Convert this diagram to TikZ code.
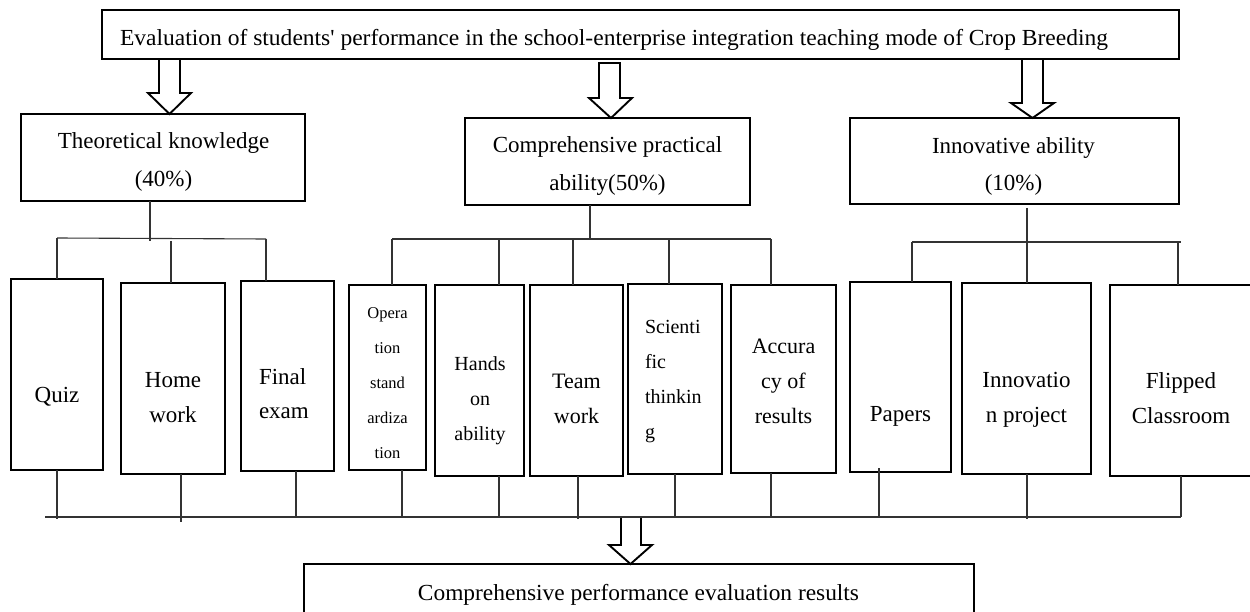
\documentclass[tikz,border=0pt]{standalone}
\usepackage{fontspec}
\setmainfont{Liberation Serif}[Ligatures=TeXOff]
\usepackage{graphicx}
\newcommand\fs[2]{\fontsize{#1}{#2}\selectfont}
\newcommand\mybox[5]{\node[box, anchor=north west, minimum width={#4-#2}, minimum height={#5-#3}] (#1) at (#2,#3) {};}
\begin{document}
\begin{tikzpicture}[x=1pt,y=-1pt,
  box/.style={draw=black, line width=2.2pt, inner sep=0pt, outer sep=0pt},
  conn/.style={draw=black!80, line width=1.1pt},
  barrow/.style={draw=black, line width=1.9pt, fill=white, line join=miter},
  lbl/.style={inner sep=0pt, outer sep=0pt, align=center},
]
\useasboundingbox (0,0) rectangle (1250,612);
\clip (0,0) rectangle (1250,612);
% boxes
\mybox{top}{102}{10}{1179}{59}
\mybox{theo}{21}{114}{305}{201}
\mybox{prac}{465}{118}{750}{205}
\mybox{inno}{850}{118}{1179}{204}
\mybox{quiz}{11}{279}{103}{470}
\mybox{home}{121}{283}{225}{474}
\mybox{final}{241}{281}{334}{471}
\mybox{oper}{349}{285}{426}{470}
\mybox{hands}{435}{285}{524}{476}
\mybox{team}{530}{285}{623}{476}
\mybox{sci}{628}{284}{722}{474}
\mybox{acc}{731}{285}{836}{473}
\mybox{papers}{850}{282}{951}{472}
\mybox{innov}{962}{283}{1091}{474}
\mybox{flip}{1110}{285}{1256}{476}
\mybox{result}{304}{564}{974}{650}
% labels (anchor=base is the baseline of the last line)
\node[lbl, anchor=base west, font=\fs{23}{28}] (topT) at (120,46) {\resizebox{988pt}{\height}{Evaluation of students' performance in the school-enterprise integration teaching mode of Crop Breeding}};
\node[lbl, anchor=base, font=\fs{23}{38}] (theoT) at (163.5,187) {Theoretical knowledge\\(40\%)};
\node[lbl, anchor=base, font=\fs{23}{38}] (pracT) at (607.5,191) {Comprehensive practical\\ability(50\%)};
\node[lbl, anchor=base, font=\fs{23}{37}] (innoT) at (1013.5,191) {Innovative ability\\(10\%)};
\node[lbl, anchor=base, font=\fs{23}{35}] (quizT) at (57,402) {Quiz};
\node[lbl, anchor=base, font=\fs{23}{35}] (homeT) at (173,422) {Home\\work};
\node[lbl, anchor=base west, align=left, font=\fs{23}{34}] (finalT) at (259,418) {Final\\exam};
\node[lbl, anchor=base, font=\fs{16.5}{35}] (operT) at (387.5,458) {Opera\\tion\\stand\\ardiza\\tion};
\node[lbl, anchor=base, font=\fs{20}{35}] (handsT) at (480,440) {Hands\\on\\ability};
\node[lbl, anchor=base, font=\fs{22}{35}] (teamT) at (576.5,423) {Team\\work};
\node[lbl, anchor=base west, align=left, font=\fs{20}{35}] (sciT) at (645,438) {Scienti\\fic\\thinkin\\g};
\node[lbl, anchor=base, font=\fs{22}{35}] (accT) at (783.5,423) {Accura\\cy of\\results};
\node[lbl, anchor=base, font=\fs{23}{35}] (papersT) at (900.5,421) {Papers};
\node[lbl, anchor=base, font=\fs{23}{35}] (innovT) at (1026.5,422) {Innovatio\\n project};
\node[lbl, anchor=base, font=\fs{23}{35}] (flipT) at (1181,423) {Flipped\\Classroom};
\node[lbl, anchor=base, font=\fs{23}{28}] (resultT) at (638.5,600) {\resizebox{441pt}{\height}{Comprehensive performance evaluation results}};
% block arrows
\draw[barrow] (159,0 |- top.south) -- (159,93) -- (148,93) -- (169.5,0 |- theo.north) -- (191,93) -- (180,93) -- (180,0 |- top.south) -- cycle;
\draw[barrow] (599,63) -- (599,98) -- (589,98) -- (611,0 |- prac.north) -- (632,98) -- (620,98) -- (620,63) -- cycle;
\draw[barrow] (1022,0 |- top.south) -- (1022,103) -- (1011,103) -- (1032.5,0 |- inno.north) -- (1054,103) -- (1043,103) -- (1043,0 |- top.south) -- cycle;
\coordinate (busL) at (45,517);
\coordinate (busR) at (1181,517);
\draw[barrow] (621,0 |- busL) -- (621,545) -- (609,545) -- (630.5,0 |- result.north) -- (652,545) -- (641,545) -- (641,0 |- busL) -- cycle;
% tree: theoretical
\coordinate (tb1) at (57,238); \coordinate (tb2) at (266,239);
\draw[conn] (150,0 |- theo.south) -- (150,241);
\draw[conn] (tb1) -- (tb2);
\draw[conn] (tb1) -- (57,0 |- quiz.north);
\draw[conn] (171,241) -- (171,0 |- home.north);
\draw[conn] (tb2) -- (266,0 |- final.north);
% tree: practical
\coordinate (pb1) at (392,239); \coordinate (pb2) at (771,239);
\draw[conn] (590,0 |- prac.south) -- (590,239);
\draw[conn] (pb1) -- (pb2);
\draw[conn] (pb1) -- (392,0 |- oper.north);
\draw[conn] (499,239) -- (499,0 |- hands.north);
\draw[conn] (573,239) -- (573,0 |- team.north);
\draw[conn] (669,239) -- (669,0 |- sci.north);
\draw[conn] (pb2) -- (771,0 |- acc.north);
% tree: innovative
\coordinate (ib1) at (912,242); \coordinate (ib2) at (1181,242);
\draw[conn] (1027,208) -- (1027,242);
\draw[conn] (ib1) -- (ib2);
\draw[conn] (ib1) -- (912,0 |- papers.north);
\draw[conn] (1027,242) -- (1027,0 |- innov.north);
\draw[conn] (1178,242) -- (1178,0 |- flip.north);
% bottom bus
\draw[conn] (busL) -- (busR);
\draw[conn] (57,0 |- quiz.south) -- (57,519);
\draw[conn] (181,0 |- home.south) -- (181,522);
\draw[conn] (296,0 |- final.south) -- (296,517);
\draw[conn] (402,0 |- oper.south) -- (402,517);
\draw[conn] (499,0 |- hands.south) -- (499,517);
\draw[conn] (578,0 |- team.south) -- (578,519);
\draw[conn] (675,0 |- sci.south) -- (675,517);
\draw[conn] (771,0 |- acc.south) -- (771,517);
\draw[conn] (879,468) -- (879,517);
\draw[conn] (1027,0 |- innov.south) -- (1027,519);
\draw[conn] (1181,0 |- flip.south) -- (busR);
\end{tikzpicture}
\end{document}
